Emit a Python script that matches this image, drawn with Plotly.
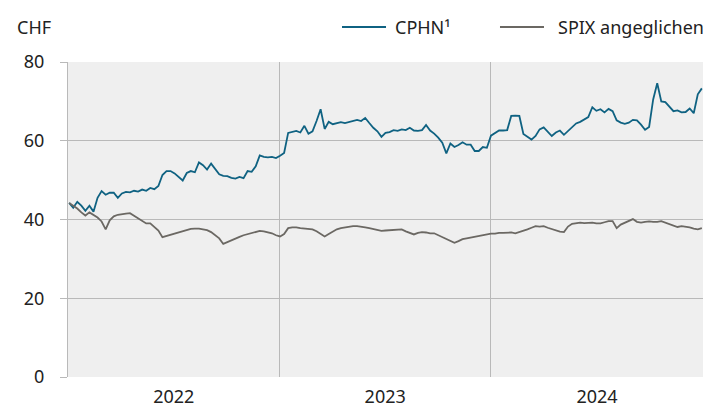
import pandas as pd
import plotly.graph_objects as go

# Weekly observations, starting first week of 2022
dates = pd.date_range("2022-01-03", periods=157, freq="7D")

cphn = [
    44.2, 43.0, 44.5, 43.5, 42.2, 43.5, 42.0, 45.5, 47.2, 46.3,
    46.8, 46.8, 45.5, 46.6, 47.0, 46.9, 47.3, 47.1, 47.6, 47.3,
    48.0, 47.7, 48.5, 51.3, 52.3, 52.3, 51.7, 50.8, 49.9, 51.8,
    52.3, 52.0, 54.5, 53.8, 52.7, 54.2, 52.7, 51.5, 51.1, 51.0,
    50.6, 50.4, 50.8, 50.5, 52.3, 52.1, 53.5, 56.3, 55.9, 55.8,
    55.9, 55.6, 56.2, 56.9, 62.0, 62.3, 62.5, 62.1, 63.8, 61.8,
    62.4, 65.0, 68.0, 63.0, 64.8, 64.2, 64.4, 64.7, 64.5, 64.8,
    65.1, 65.3, 65.0, 65.8, 64.5, 63.3, 62.4, 61.0, 62.0, 62.2,
    62.7, 62.5, 62.9, 62.7, 63.3, 62.6, 62.5, 62.7, 64.0, 62.6,
    61.8, 60.8, 59.5, 56.8, 59.3, 58.4, 58.9, 59.6, 59.0, 59.0,
    57.4, 57.4, 58.4, 58.2, 61.3, 61.9, 62.6, 62.6, 62.7, 66.3,
    66.4, 66.3, 61.7, 61.0, 60.3, 61.2, 62.9, 63.4, 62.3, 61.2,
    62.1, 62.6, 61.5, 62.5, 63.3, 64.4, 64.8, 65.4, 66.0, 68.5,
    67.6, 68.0, 67.2, 68.1, 67.5, 65.2, 64.6, 64.3, 64.6, 65.3,
    65.2, 64.1, 62.8, 63.5, 70.5, 74.6, 70.0, 69.8, 68.5, 67.5,
    67.7, 67.2, 67.3, 68.2, 67.0, 71.8, 73.3,
]

spix = [
    44.2, 43.5, 42.8, 41.8, 41.0, 41.8, 41.2, 40.5, 39.5, 37.5,
    39.8, 40.8, 41.2, 41.4, 41.5, 41.6, 41.0, 40.3, 39.6, 39.0,
    39.0, 38.2, 37.2, 35.5, 35.8, 36.1, 36.3, 36.6, 36.9, 37.3,
    37.6, 37.7, 37.7, 37.5, 37.3, 36.8, 36.1, 35.2, 33.8, 34.3,
    34.7, 35.2, 35.6, 36.0, 36.3, 36.6, 36.9, 37.1, 37.0, 36.8,
    36.5, 36.0, 35.7, 36.3, 37.8, 38.0, 38.0, 37.8, 37.7, 37.6,
    37.5, 37.0, 36.3, 35.7, 36.3, 36.9, 37.5, 37.8, 38.0, 38.2,
    38.3, 38.3, 38.2, 38.0, 37.8, 37.6, 37.4, 37.1, 37.2, 37.3,
    37.3, 37.5, 37.5, 37.0, 36.5, 36.2, 36.6, 36.8, 36.7, 36.5,
    36.5, 36.0, 35.6, 35.1, 34.4, 34.1, 34.5, 35.0, 35.2, 35.4,
    35.6, 35.8, 36.1, 36.3, 36.4, 36.4, 36.6, 36.6, 36.6, 36.7,
    36.5, 36.8, 37.2, 37.5, 37.9, 38.3, 38.2, 38.3, 37.9, 37.6,
    37.2, 36.9, 36.8, 38.2, 38.9, 39.0, 39.2, 39.1, 39.1, 39.2,
    39.0, 39.0, 39.3, 39.6, 39.6, 37.8, 38.7, 39.1, 39.7, 40.1,
    39.4, 39.2, 39.4, 39.5, 39.4, 39.4, 39.6, 39.2, 38.7, 38.3,
    38.1, 38.3, 38.2, 38.0, 37.7, 37.5, 37.8,
]

y_ticks = [0, 20, 40, 60, 80]
series_names = ["CPHN¹", "SPIX angeglichen"]
colors = ["#0f6282", "#6b6863"]

FONT = "Noto Sans"
FS = 18
GRID = "#b9b9b9"
TXT = "#222222"

fig = go.Figure()
for name, vals, col in zip(series_names, [cphn, spix], colors):
    fig.add_trace(go.Scatter(x=dates, y=vals, mode="lines", name=name,
                             line=dict(color=col, width=1.8), showlegend=False))

# manual legend (sample line + label), positioned in paper coordinates
legend_y = 1.111
legend_items = [(0.4315, 0.5008, 0.5118), (0.6803, 0.7496, 0.7685)]
shapes = []
annotations = []
for (x0, x1, xt), name, col in zip(legend_items, series_names, colors):
    shapes.append(dict(type="line", xref="paper", yref="paper", x0=x0, x1=x1,
                       y0=legend_y, y1=legend_y, line=dict(color=col, width=2)))
    annotations.append(dict(text=name, xref="paper", yref="paper", x=xt, y=legend_y,
                            xanchor="left", yanchor="middle", showarrow=False,
                            font=dict(size=FS, color=TXT)))
annotations.append(dict(text="CHF", xref="paper", yref="paper", x=-0.083, y=legend_y,
                        xanchor="left", yanchor="middle", showarrow=False,
                        font=dict(size=FS, color=TXT)))

fig.update_layout(
    width=703, height=408,
    margin=dict(l=68, r=0, t=62, b=31, autoexpand=False),
    paper_bgcolor="white",
    plot_bgcolor="#efefef",
    font=dict(family=FONT, size=FS, color=TXT),
    showlegend=False,
    hovermode=False,
    shapes=shapes,
    annotations=annotations,
)

fig.update_xaxes(
    type="date",
    range=["2022-01-01", "2025-01-01"],
    dtick="M12", tick0="2022-01-01",
    ticklabelmode="period", tickformat="%Y",
    showgrid=True, gridcolor=GRID, gridwidth=1,
    ticks="", showline=False, zeroline=False,
    ticklabelstandoff=7,
)
fig.update_yaxes(
    range=[0, 80], tickvals=y_ticks,
    showgrid=True, gridcolor=GRID, gridwidth=1,
    ticks="outside", ticklen=7, tickcolor=GRID,
    showline=True, linecolor=GRID, linewidth=1,
    zeroline=False, ticklabelstandoff=12,
)

# remove the browser's default body margin so the figure sits at the page origin
fig.write_html(
    "out.html",
    config={"displayModeBar": False, "staticPlot": True},
    post_script="document.body.style.margin='0';document.body.style.padding='0';"
                "document.body.style.overflow='hidden';",
)
